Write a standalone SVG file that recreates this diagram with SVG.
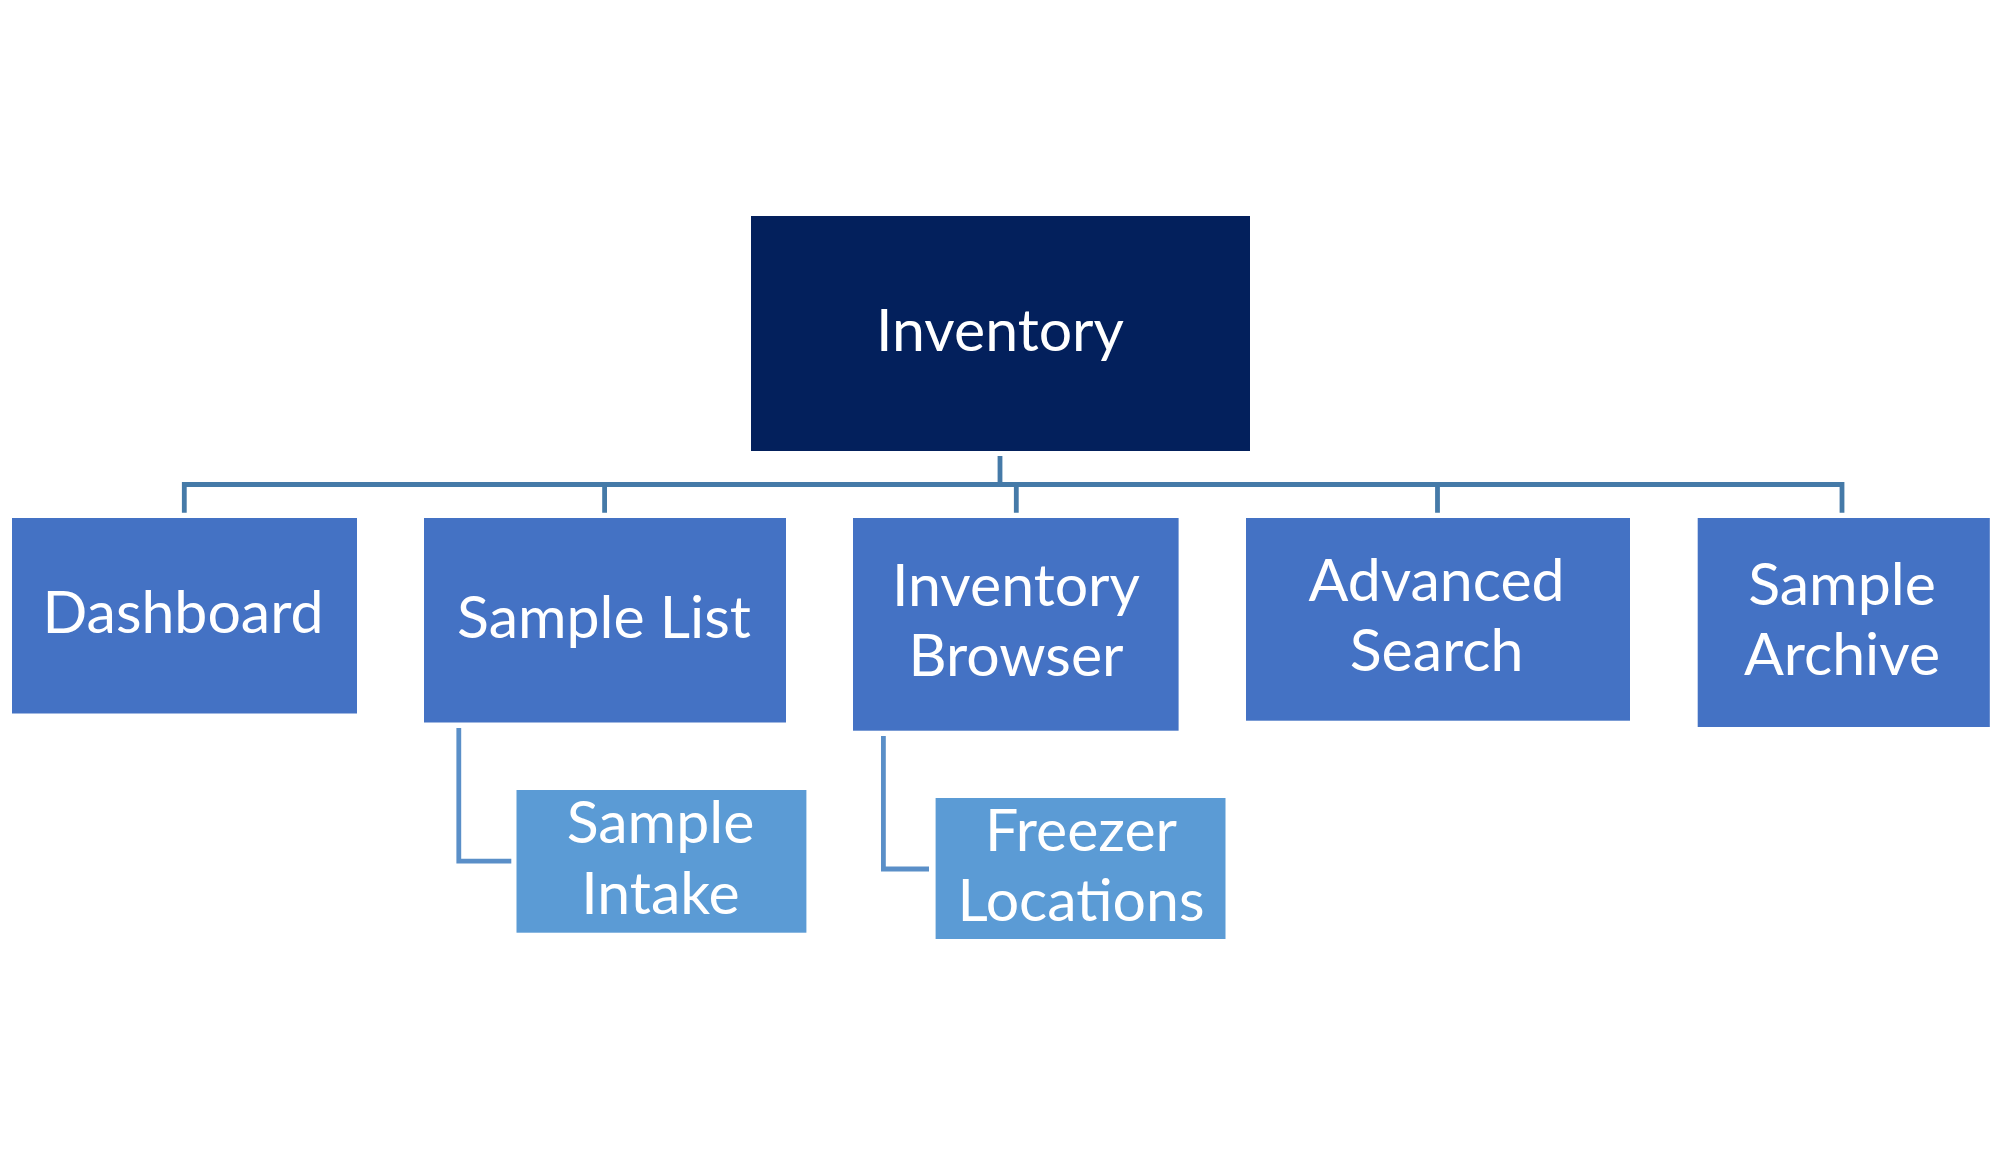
<svg xmlns="http://www.w3.org/2000/svg" width="1998" height="1155" viewBox="0 0 1998 1155">
<style>
.lbl{font-family:Lato,"Open Sans","Liberation Sans",sans-serif;font-size:59px;fill:#ffffff;text-anchor:middle}
.main{fill:none;stroke:#457AA8;stroke-width:4.8}
.sub{fill:none;stroke:#5A8FC8;stroke-width:4.8}
</style>
<rect x="0" y="0" width="1998" height="1155" fill="#ffffff"/>
<g id="connectors">
<path class="main" d="M1000,456 V484.5 M184.3,512.7 V484.5 H1842 V512.7 M604.6,484.5 V512.7 M1016.3,484.5 V512.7 M1437.5,484.5 V512.7"/>
<path class="sub" d="M458.8,728 V861.2 H511.3"/>
<path class="sub" d="M883.4,736 V869 H929"/>
</g>
<g id="inventory">
<rect x="751" y="216" width="499" height="235" fill="#03205C"/>
<text class="lbl" x="1000" y="351">Inventory</text>
</g>
<g id="dashboard">
<rect x="12" y="518" width="345" height="195.5" fill="#4472C4"/>
<text class="lbl" x="183" y="633">Dashboard</text>
</g>
<g id="sample-list">
<rect x="424" y="518" width="362" height="204.5" fill="#4472C4"/>
<text class="lbl" x="604" y="637.5">Sample List</text>
</g>
<g id="inventory-browser">
<rect x="853" y="518" width="325.6" height="212.7" fill="#4472C4"/>
<text class="lbl" x="1016" y="605.7">Inventory</text>
<text class="lbl" x="1016" y="676">Browser</text>
</g>
<g id="advanced-search">
<rect x="1246" y="518" width="384" height="202.7" fill="#4472C4"/>
<text class="lbl" x="1436.5" y="600.7">Advanced</text>
<text class="lbl" x="1436.5" y="671.4">Search</text>
</g>
<g id="sample-archive">
<rect x="1697.7" y="518" width="292.1" height="209" fill="#4472C4"/>
<text class="lbl" x="1842" y="604.6">Sample</text>
<text class="lbl" x="1842" y="675">Archive</text>
</g>
<g id="sample-intake">
<rect x="516.5" y="790" width="289.9" height="142.7" fill="#5B9BD5"/>
<text class="lbl" x="660.5" y="843.3">Sample</text>
<text class="lbl" x="660.5" y="914.3">Intake</text>
</g>
<g id="freezer-locations">
<rect x="935.6" y="798" width="289.9" height="141" fill="#5B9BD5"/>
<text class="lbl" x="1081" y="850.7">Freezer</text>
<text class="lbl" x="1081" y="921">Locations</text>
</g>
</svg>
